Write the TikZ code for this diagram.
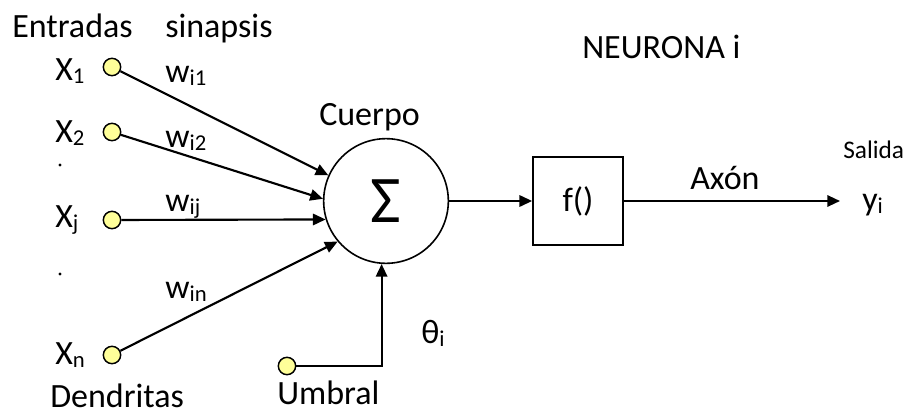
\documentclass[tikz,border=0pt]{standalone}
\usepackage{fontspec}
\setmainfont{Carlito}
\usetikzlibrary{arrows.meta}
\newcommand{\headsize}{\fontsize{25.5}{25.5}\selectfont}
\newcommand{\lowsub}[1]{\raisebox{-0.1em}{\fontsize{17}{17}\selectfont #1}}
\begin{document}
\begin{tikzpicture}[x=0.75pt,y=-0.75pt,
  input/.style={circle,draw=black,line width=1.1pt,fill=inputyellow,minimum size=13pt,inner sep=0pt},
  headtext/.style={anchor=base west,inner sep=0pt,font=\headsize},
  wire/.style={line width=1.6pt,-{Triangle[length=9.5pt,width=8.5pt]}}]
\definecolor{inputyellow}{HTML}{FFFF99}
\useasboundingbox (0,0) rectangle (906,414);

% headings
\node[headtext] (entradas) at (12,37) {Entradas};
\node[headtext] (sinapsis) at (165,37) {sinapsis};
\node[headtext] (neurona) at (582,58) {NEURONA i};
\node[headtext] (cuerpo) at (319,125) {Cuerpo};
\node[headtext] (dendritas) at (50,407) {Dendritas};
\node[headtext] (umbral) at (277,404) {Umbral};

% soma and activation
\node[circle,draw=black,line width=1.2pt,minimum size=93.5pt,inner sep=0pt,
      font=\fontsize{50}{50}\selectfont] (sum) at (386,201) {Σ};
\node[draw=black,line width=1.3pt,minimum width=67.5pt,minimum height=66pt,
      inner sep=0pt,font=\headsize] (fbox) at (578,201) {f()};

% inputs
\node[input] (in1) at (112,67) {};
\node[input] (in2) at (112,132) {};
\node[input] (inj) at (112,220) {};
\node[input] (inn) at (112,355) {};
\node[input] (umb) at (287,366) {};

\node[headtext] (x1) at (55,80) {X\lowsub{1}};
\node[headtext] (x2) at (55,142) {X\lowsub{2}};
\node[headtext] (xj) at (55,227) {X\lowsub{j}};
\node[headtext] (xn) at (55,364) {X\lowsub{n}};
\fill (60,165) circle (1.6);
\fill (60,274) circle (1.6);

\node[headtext] (w1) at (165,82) {w\lowsub{i1}};
\node[headtext] (w2) at (165,147) {w\lowsub{i2}};
\node[headtext] (wj) at (165,211) {w\lowsub{ij}};
\node[headtext] (wn) at (165,298) {w\lowsub{in}};
\node[headtext] (theta) at (421,343) {θ\lowsub{i}};

% output
\coordinate (yend) at (840,201);
\node[headtext] (axon) at (690,189) {Axón};
\node[anchor=base west,inner sep=0pt,font=\fontsize{19}{19}\selectfont] (salida) at (843,158) {Salida};
\node[headtext] (yi) at (862,210) {y\lowsub{i}};

% connectors
\draw[wire] (in1) -- (sum.156);
\draw[wire] (in2) -- (sum.178);
\draw[wire] (inj) -- (sum.197);
\draw[wire] (inn) -- (sum.220);
\draw[wire] (umb) -| (sum.266);
\draw[wire] (sum.east) -- (fbox.west);
\draw[wire] (fbox.east) -- (yend);
\end{tikzpicture}
\end{document}
